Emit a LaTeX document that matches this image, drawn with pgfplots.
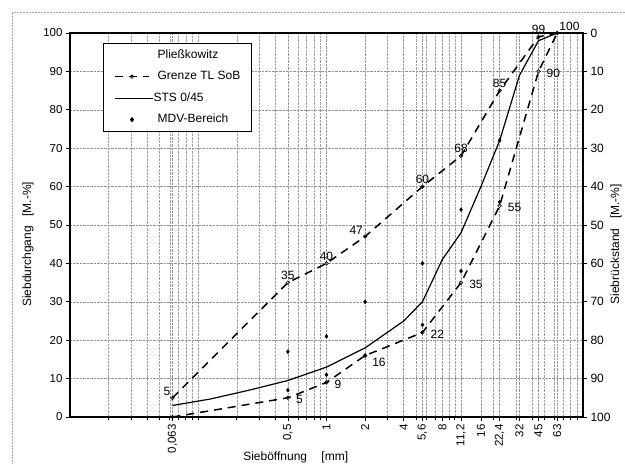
\documentclass[border=0pt]{standalone}
\usepackage{fontspec}
\setmainfont{Liberation Sans}
\usepackage{pgfplots}
\pgfplotsset{compat=1.18}
\newcommand{\fs}[1]{\fontsize{#1}{#1}\selectfont}
\pgfplotsset{
  legGrenze/.style={legend image code/.code={\draw[mark repeat=2,mark phase=2,##1] plot coordinates {(0pt,0pt) (17pt,0pt) (34pt,0pt)};}},
  legSTS/.style={legend image code/.code={\draw[##1] (0pt,0pt) -- (38pt,0pt);}},
  legMDV/.style={legend image code/.code={\draw[##1] plot coordinates {(17pt,0pt)};}},
}
\begin{document}
\begin{tikzpicture}
\useasboundingbox (-70pt,-47pt) rectangle (555pt,417pt);
\draw[gray!70, densely dotted, line width=0.5pt] (-58pt,-60pt) -- (-58pt,405pt) -- (560pt,405pt);
\begin{axis}[
  at={(0pt,0pt)}, anchor=south west,
  scale only axis, width=513pt, height=384pt,
  xmode=log, xmin=0.01, xmax=100, ymin=0, ymax=100,
  /pgf/number format/assume math mode=true,
  xtick={0.063,0.5,1,2,4,5.6,8,11.2,16,22.4,32,45,63},
  xticklabels={{0,063},{0,5},1,2,4,{5,6},8,{11,2},16,{22,4},32,45,63},
  minor xtick={0.02,0.03,0.04,0.05,0.06,0.07,0.08,0.09,0.1,0.2,0.3,0.4,0.6,0.7,0.8,0.9,3,5,6,7,9,10,20,30,40,50,60,70,80,90},
  ytick={0,10,...,100},
  xtick pos=bottom, ytick pos=left,
  tick align=outside, major tick length=4pt, minor tick length=3pt,
  tick style={black, line width=0.7pt},
  xticklabel style={rotate=90, anchor=east, font=\fs{11.5}},
  yticklabel style={font=\fs{11.5}},
  grid=both,
  major grid style={gray!85, densely dotted, line width=0.55pt},
  minor grid style={gray!75, densely dotted, line width=0.45pt},
  axis line style={black, line width=1.2pt},
  xlabel={Sieböffnung\hspace{1.2em}[mm]},
  ylabel={Siebdurchgang\hspace{0.8em}[M.-\%]},
  every axis x label/.style={at={(rel axis cs:0.44,0)}, yshift=-40pt, anchor=center, font=\fs{12}},
  every axis y label/.style={at={(rel axis cs:0,0.45)}, xshift=-42pt, rotate=90, anchor=center, font=\fs{12}},
  legend style={at={(rel axis cs:0.064,0.974)}, anchor=north west, draw=black, line width=0.9pt,
    font=\fs{12}, inner xsep=11pt, inner ysep=6pt, row sep=10pt,
    nodes={inner sep=0pt, text height=9pt, text depth=2.5pt}},
  legend cell align=left,
]
\addlegendimage{empty legend}
\addlegendentry{\hspace{4pt}Pließkowitz}

\addplot[black, line width=1.5pt, dash pattern=on 8pt off 6pt, mark=o, mark size=1.8pt,
  mark options={solid, fill=white, line width=0.6pt}, legGrenze]
  coordinates {(0.063,5)(0.5,35)(1,40)(2,47)(5.6,60)(11.2,68)(22.4,85)(45,99)(63,100)};
\addlegendentry{\hspace{4pt}Grenze TL SoB}

\addplot[black, line width=1.2pt, mark=none, legSTS]
  coordinates {(0.063,3)(0.125,4.7)(0.25,7)(0.5,9.5)(1,13)(2,18)(4,25)(5.6,30)(8,41)(11.2,48)(16,60)(22.4,72)(32,89)(45,98)(63,100)};
\addlegendentry{STS 0/45}

\addplot[only marks, mark=diamond*, mark size=2pt, black, legMDV]
  coordinates {(0.5,17)(0.5,7)(1,21)(1,11)(2,30)(2,16)(5.6,40)(5.6,24)(11.2,54)(11.2,38)(22.4,72)(22.4,56)};
\addlegendentry{\hspace{4pt}MDV-Bereich}

\addplot[forget plot, black, line width=1.5pt, dash pattern=on 8pt off 6pt, mark=o, mark size=1.8pt,
  mark options={solid, fill=white, line width=0.6pt}]
  coordinates {(0.063,0)(0.5,5)(1,9)(2,16)(5.6,22)(11.2,35)(22.4,55)(45,90)(63,100)};

% value labels
\addplot[forget plot, draw=none, mark=none, nodes near coords, point meta=explicit symbolic,
  every node near coord/.style={anchor=south, font=\fs{12}, inner sep=2pt, yshift=1pt}]
  table[meta=l] {
x y l
0.5 35 35
1 40 40
5.6 60 60
11.2 68 68
22.4 85 85
45 99 99
};
\addplot[forget plot, draw=none, mark=none, nodes near coords, point meta=explicit symbolic,
  every node near coord/.style={anchor=south east, font=\fs{12}, inner sep=2pt}]
  table[meta=l] {
x y l
0.063 5 5
2 47 47
};
\addplot[forget plot, draw=none, mark=none, nodes near coords, point meta=explicit symbolic,
  every node near coord/.style={anchor=south west, font=\fs{12}, inner sep=2pt}]
  table[meta=l] {
x y l
63 100 100
};
\addplot[forget plot, draw=none, mark=none, nodes near coords, point meta=explicit symbolic,
  every node near coord/.style={anchor=west, font=\fs{12}, inner sep=2pt, xshift=6pt, yshift=-2pt}]
  table[meta=l] {
x y l
0.5 5 5
1 9 9
5.6 22 22
11.2 35 35
22.4 55 55
45 90 90
};
\addplot[forget plot, draw=none, mark=none, nodes near coords, point meta=explicit symbolic,
  every node near coord/.style={anchor=north west, font=\fs{12}, inner sep=2pt, xshift=5pt}]
  table[meta=l] {
x y l
2 16 16
};
\end{axis}

\begin{axis}[
  at={(0pt,0pt)}, anchor=south west,
  scale only axis, width=513pt, height=384pt,
  xmode=log, xmin=0.01, xmax=100, ymin=0, ymax=100,
  y dir=reverse,
  /pgf/number format/assume math mode=true,
  axis x line=none, axis y line*=right,
  ytick={0,10,...,100},
  tick align=outside, major tick length=4pt,
  tick style={black, line width=0.7pt},
  yticklabel style={font=\fs{12}},
  axis line style={black, line width=1.2pt},
  ylabel={Siebrückstand\hspace{0.8em}[M.-\%]},
  every axis y label/.style={at={(rel axis cs:1,0.45)}, xshift=33pt, rotate=90, anchor=center, font=\fs{12}},
]
\addplot[draw=none, mark=none] coordinates {(1,0)(1,100)};
\end{axis}
\end{tikzpicture}
\end{document}
